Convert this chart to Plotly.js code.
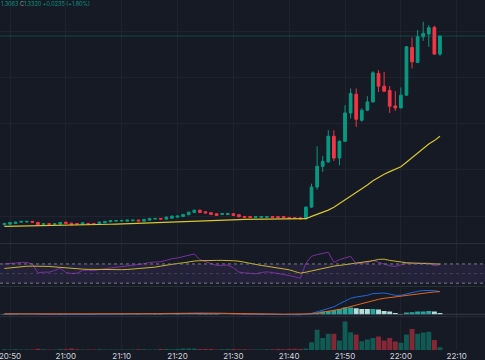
<!DOCTYPE html>
<html><head><meta charset="utf-8">
<script src="https://cdn.plot.ly/plotly-3.0.1.min.js"></script>
<style>html,body{margin:0;padding:0;background:#161a25;}#chart{width:485px;height:360px;}</style>
</head><body><div id="chart"></div>
<script>
const day = "2024-01-01 ";
const times = ["20:49","20:50","20:51","20:52","20:53","20:54","20:55","20:56","20:57","20:58","20:59",
"21:00","21:01","21:02","21:03","21:04","21:05","21:06","21:07","21:08","21:09",
"21:10","21:11","21:12","21:13","21:14","21:15","21:16","21:17","21:18","21:19",
"21:20","21:21","21:22","21:23","21:24","21:25","21:26","21:27","21:28","21:29",
"21:30","21:31","21:32","21:33","21:34","21:35","21:36","21:37","21:38","21:39",
"21:40","21:41","21:42","21:43","21:44","21:45","21:46","21:47","21:48","21:49",
"21:50","21:51","21:52","21:53","21:54","21:55","21:56","21:57","21:58","21:59",
"22:00","22:01","22:02","22:03","22:04","22:05","22:06","22:07"];

const opens = [1.30754,1.30762,1.30771,1.30788,1.30790,1.30798,1.30784,1.30754,1.30768,1.30758,1.30762,1.30787,1.30775,1.30771,1.30758,1.30771,1.30771,1.30771,1.30780,1.30793,1.30801,1.30802,1.30801,1.30806,1.30814,1.30801,1.30814,1.30828,1.30836,1.30827,1.30840,1.30853,1.30862,1.30884,1.30914,1.30943,1.30922,1.30910,1.30897,1.30888,1.30888,1.30897,1.30884,1.30862,1.30862,1.30849,1.30850,1.30850,1.30861,1.30859,1.30862,1.30849,1.30845,1.30844,
1.30832,1.30983,1.31243,1.31512,1.31568,1.31902,1.31620,1.31837,1.32205,1.32448,1.32110,1.32240,1.32348,1.32717,1.32552,1.32496,1.32296,1.32270,1.32435,1.33055,1.32860,1.33193,1.33228,1.33315,1.32968];
const highs = [1.30780,1.30792,1.30796,1.30805,1.30806,1.30804,1.30792,1.30776,1.30775,1.30775,1.30791,1.30794,1.30782,1.30778,1.30788,1.30778,1.30777,1.30795,1.30804,1.30813,1.30816,1.30817,1.30820,1.30820,1.30820,1.30830,1.30843,1.30842,1.30842,1.30860,1.30873,1.30873,1.30895,1.30926,1.30951,1.30950,1.30929,1.30916,1.30903,1.30906,1.30907,1.30903,1.30890,1.30868,1.30868,1.30865,1.30867,1.30867,1.30867,1.30865,1.30868,1.30855,1.30851,1.30850,
1.30992,1.31287,1.31772,1.31646,1.31980,1.31980,1.31850,1.32305,1.32522,1.32522,1.32266,1.32422,1.32747,1.32760,1.32738,1.32552,1.32487,1.32535,1.33072,1.33185,1.33280,1.33388,1.33345,1.33336,1.33209];
const lows = [1.30748,1.30756,1.30765,1.30783,1.30785,1.30782,1.30748,1.30749,1.30755,1.30752,1.30757,1.30767,1.30748,1.30755,1.30752,1.30752,1.30757,1.30765,1.30774,1.30788,1.30796,1.30797,1.30796,1.30801,1.30798,1.30796,1.30809,1.30823,1.30823,1.30822,1.30835,1.30848,1.30857,1.30879,1.30909,1.30908,1.30902,1.30882,1.30869,1.30883,1.30883,1.30869,1.30852,1.30845,1.30844,1.30844,1.30845,1.30845,1.30845,1.30844,1.30840,1.30832,1.30831,1.30825,
1.30823,1.30973,1.31209,1.31438,1.31564,1.31581,1.31525,1.31831,1.32132,1.32023,1.32091,1.32227,1.32338,1.32478,1.32481,1.32205,1.32231,1.32266,1.32429,1.32782,1.32851,1.33141,1.33063,1.32962,1.32946];
const closes = [1.30771,1.30784,1.30788,1.30798,1.30798,1.30788,1.30754,1.30768,1.30761,1.30768,1.30784,1.30772,1.30754,1.30761,1.30780,1.30758,1.30763,1.30788,1.30797,1.30806,1.30809,1.30810,1.30814,1.30814,1.30804,1.30823,1.30836,1.30836,1.30828,1.30853,1.30866,1.30866,1.30888,1.30918,1.30943,1.30914,1.30908,1.30888,1.30875,1.30900,1.30901,1.30875,1.30858,1.30850,1.30849,1.30859,1.30861,1.30861,1.30850,1.30849,1.30845,1.30837,1.30836,1.30830,
1.30983,1.31243,1.31512,1.31577,1.31902,1.31620,1.31837,1.32205,1.32457,1.32123,1.32240,1.32348,1.32725,1.32552,1.32487,1.32292,1.32270,1.32435,1.33063,1.32868,1.33193,1.33237,1.33310,1.32968,1.33202];
const maLine = [1.30732,1.30733,1.30735,1.30737,1.30739,1.30740,1.30741,1.30742,1.30744,1.30745,1.30746,1.30748,1.30749,1.30750,1.30752,1.30753,1.30755,1.30757,1.30758,1.30761,1.30763,1.30766,1.30768,1.30771,1.30774,1.30776,1.30779,1.30781,1.30784,1.30788,1.30792,1.30796,1.30798,1.30802,1.30806,1.30809,1.30811,1.30814,1.30817,1.30818,1.30819,1.30820,1.30822,1.30823,1.30824,1.30826,1.30827,1.30828,1.30830,1.30830,1.30831,1.30831,1.30832,1.30832,
1.30833,1.30863,1.30889,1.30915,1.30944,1.30980,1.31027,1.31077,1.31121,1.31169,1.31213,1.31270,1.31325,1.31369,1.31409,1.31443,1.31472,1.31506,1.31564,1.31624,1.31685,1.31750,1.31802,1.31846,1.31902];
const volumes = [80,60,70,50,40,60,120,70,50,60,90,110,150,70,60,50,60,70,60,50,40,60,50,60,70,80,60,50,90,110,70,100,140,160,150,110,100,90,60,70,90,110,80,70,50,60,60,70,80,90,80,100,120,100,
150,770,2000,1200,1600,1600,930,2830,1770,1530,870,1030,1200,1330,930,1200,830,730,1530,2070,1600,1730,1800,1000,270];
const rsi = [70.1,70.4,71.8,73.2,73.2,69.7,51.5,52.9,52.9,56.4,61.3,52.2,50.1,50.8,56.4,57.1,55.7,58.5,59.9,61.3,62.7,64.8,65.5,66.2,68.3,70.4,73.2,73.9,74.6,77.4,80.9,82.4,85.2,88.0,90.8,78.8,74.6,70.4,66.9,66.9,67.6,62.0,52.9,51.5,50.8,49.4,52.2,53.6,52.2,50.8,48.0,45.9,43.7,40.2,71.8,85.9,89.4,92.2,94.3,73.2,78.8,82.4,85.9,70.4,71.8,72.5,77.4,73.9,70.4,66.2,64.8,67.6,71.1,71.8,71.8,71.8,71.8,66.2,68.3];
const rsiMa = [60.6,62.0,63.4,64.8,65.2,65.5,65.5,65.2,64.8,63.8,62.7,61.3,60.6,59.9,59.2,58.8,58.5,57.8,57.8,57.8,57.8,58.1,58.5,59.2,59.9,60.6,61.3,63.4,65.5,67.6,69.7,71.1,72.2,74.3,76.0,76.7,77.4,77.4,77.4,77.4,77.4,76.7,75.7,73.2,71.1,69.0,66.9,65.2,63.4,61.6,59.9,57.8,54.3,50.8,52.9,55.7,58.5,61.3,63.4,65.5,66.9,68.3,69.7,71.1,72.5,74.6,76.7,79.5,79.9,77.4,75.3,73.6,72.5,71.8,71.1,70.8,70.4,70.1,69.7];
const macd = [0.6,0.5,0.5,0.4,0.4,0.3,0.1,0,-0.1,-0.2,-0.2,-0.2,-0.3,-0.2,-0.2,-0.1,0,0.1,0.2,0.3,0.4,0.5,0.6,0.6,0.7,0.8,0.9,0.9,1.0,1.1,1.2,1.3,1.4,1.5,1.4,1.3,1.2,1.1,1.0,0.9,0.8,0.6,0.4,0.3,0.2,0.1,0.1,0,0,-0.1,-0.2,-0.3,-0.4,-0.5,
0.3,1,2.5,4,5.5,7.5,10.5,13.5,16,17.3,18,19,20.7,21.3,21.3,20.3,19,19,20.5,21.7,23,23.8,24,23.7,22.7];
const signal = [0.4,0.4,0.4,0.4,0.4,0.4,0.3,0.3,0.2,0.1,0.1,0,0,-0.1,-0.1,-0.1,-0.1,0,0,0.1,0.1,0.2,0.3,0.3,0.4,0.4,0.5,0.6,0.6,0.7,0.8,0.8,0.9,1.0,1.0,1.1,1.1,1.1,1.0,1.0,0.9,0.9,0.8,0.7,0.6,0.5,0.4,0.3,0.3,0.2,0.1,0.1,0,0,
0.2,0.5,1.2,2,2.8,3.8,5,6.3,7.8,9.5,11,12.3,13.7,15,16,16.8,17.5,18.2,18.8,19.5,20.2,21,21.7,22.3,22.7];
const hist = [0.3,0.25,0.2,0.15,0.1,0.05,-0.2,-0.35,-0.45,-0.5,-0.4,-0.3,-0.35,-0.3,-0.2,-0.15,-0.1,0.1,0.2,0.3,0.35,0.3,0.35,0.4,0.3,0.4,0.5,0.45,0.4,0.5,0.6,0.55,0.6,0.7,0.8,0.5,0.4,0.3,0.2,0.15,0.1,-0.1,-0.3,-0.45,-0.5,-0.55,-0.4,-0.3,-0.25,-0.2,-0.25,-0.35,-0.4,-0.5,
0.2,0.7,1.5,2.7,3.3,4.3,5.3,6.7,6.9,6.0,5.3,5.2,5.4,4.7,3.3,2.7,1.3,0.3,1.7,2.0,2.7,2.8,3.3,2.7,1.3];
const tickTimes = ["20:50","21:00","21:10","21:20","21:30","21:40","21:50","22:00","22:10"];

const UP = "#089981", DN = "#f23645";
const X = times.map(t => day + t);
const volColors = closes.map((c,i) => c >= opens[i] ? "rgba(8,153,129,0.5)" : "rgba(242,54,69,0.5)");
const histColors = hist.map((v,i) => {
  const p = i > 0 ? hist[i-1] : v;
  if (v >= 0) return v > p ? "#26a69a" : "#b2dfdb";
  return v < p ? "#ff5252" : "#ffcdd2";
});

const H = 350; // plot area height (px)
const dom = (top, bottom) => [1 - bottom / H, 1 - top / H];

const traces = [
  {type:"candlestick", x:X, open:opens, high:highs, low:lows, close:closes, xaxis:"x", yaxis:"y",
   increasing:{line:{color:UP,width:1}, fillcolor:UP}, decreasing:{line:{color:DN,width:1}, fillcolor:DN},
   whiskerwidth:0, hoverinfo:"skip"},
  {type:"scatter", mode:"lines", x:X, y:maLine, xaxis:"x", yaxis:"y", line:{color:"#d9c62c", width:1.2}, hoverinfo:"skip"},
  {type:"scatter", mode:"lines", x:X, y:rsi, xaxis:"x", yaxis:"y2", line:{color:"#7b2f9e", width:1}, hoverinfo:"skip"},
  {type:"scatter", mode:"lines", x:X, y:rsiMa, xaxis:"x", yaxis:"y2", line:{color:"#c8b42e", width:1}, hoverinfo:"skip"},
  {type:"bar", x:X, y:hist, xaxis:"x", yaxis:"y3", marker:{color:histColors, line:{width:0}}, hoverinfo:"skip"},
  {type:"scatter", mode:"lines", x:X, y:macd, xaxis:"x", yaxis:"y3", line:{color:"#2168d8", width:1}, hoverinfo:"skip"},
  {type:"scatter", mode:"lines", x:X, y:signal, xaxis:"x", yaxis:"y3", line:{color:"#e8651a", width:1}, hoverinfo:"skip"},
  {type:"bar", x:X, y:volumes, xaxis:"x", yaxis:"y4", marker:{color:volColors, line:{width:0}}, hoverinfo:"skip"}
];

const grid = "#1f2330";
const lastClose = closes[closes.length-1];
const layout = {
  width:485, height:360, margin:{l:0, r:0, t:0, b:10},
  paper_bgcolor:"#161a25", plot_bgcolor:"#161a25", showlegend:false,
  barmode:"overlay", bargap:0.12,
  font:{family:"Inter, 'DejaVu Sans', sans-serif"},
  xaxis:{type:"date", anchor:"y4", range:[day+"20:48:12.5", day+"22:15:04"],
    tickvals:tickTimes.map(t => day + t), ticktext:tickTimes, ticklabeloverflow:"allow",
    showgrid:true, gridcolor:grid, gridwidth:1, zeroline:false, showline:false, ticks:"",
    tickfont:{size:8, color:"#d1d4dc"}, rangeslider:{visible:false}, automargin:false, fixedrange:true},
  yaxis:{domain:dom(0,243.5), range:[1.30511,1.3367], showticklabels:false, showgrid:true, gridcolor:grid,
    tick0:1.32067, dtick:0.006, zeroline:false, fixedrange:true},
  yaxis2:{domain:dom(243.5,286.5), range:[23.1,112.5], showticklabels:false, showgrid:false, zeroline:false, fixedrange:true},
  yaxis3:{domain:dom(286.5,316.7), range:[-2.4,27.8], showticklabels:false, showgrid:false, zeroline:false, fixedrange:true},
  yaxis4:{domain:dom(316.7,350), range:[0,3300], showticklabels:false, showgrid:false, zeroline:false, fixedrange:true},
  shapes:[
    {type:"rect", xref:"paper", x0:0, x1:1, yref:"y2", y0:30, y1:70, fillcolor:"rgba(126,87,194,0.14)", line:{width:0}, layer:"below"},
    {type:"line", xref:"paper", x0:0, x1:1, yref:"y2", y0:70, y1:70, line:{color:"#787b86", width:1, dash:"dot"}},
    {type:"line", xref:"paper", x0:0, x1:1, yref:"y2", y0:50, y1:50, line:{color:"rgba(120,123,134,0.35)", width:1, dash:"dot"}},
    {type:"line", xref:"paper", x0:0, x1:1, yref:"y2", y0:30, y1:30, line:{color:"#787b86", width:1, dash:"dot"}},
    {type:"line", xref:"paper", x0:0, x1:1, yref:"y3", y0:0, y1:0, line:{color:"rgba(120,123,134,0.35)", width:1}},
    {type:"line", xref:"paper", x0:0, x1:1, yref:"y", y0:lastClose, y1:lastClose, line:{color:"rgba(8,153,129,0.35)", width:1}},
    {type:"line", xref:"paper", x0:0, x1:1, yref:"paper", y0:1-243.5/H, y1:1-243.5/H, line:{color:"#2a2e39", width:1}},
    {type:"line", xref:"paper", x0:0, x1:1, yref:"paper", y0:1-286.5/H, y1:1-286.5/H, line:{color:"#2a2e39", width:1}},
    {type:"line", xref:"paper", x0:0, x1:1, yref:"paper", y0:1-316.7/H, y1:1-316.7/H, line:{color:"#2a2e39", width:1}}
  ],
  annotations:[
    {xref:"paper", yref:"paper", x:-0.003, y:1-4/H, xanchor:"left", yanchor:"middle", showarrow:false,
     text:'1.3063 <span style="color:#9598a1">C</span>1.3320 +0.0235 (+1.80%)',
     font:{size:5.5, color:"#089981"}}
  ]
};
Plotly.newPlot("chart", traces, layout, {displayModeBar:false, staticPlot:true});
</script>
</body></html>
